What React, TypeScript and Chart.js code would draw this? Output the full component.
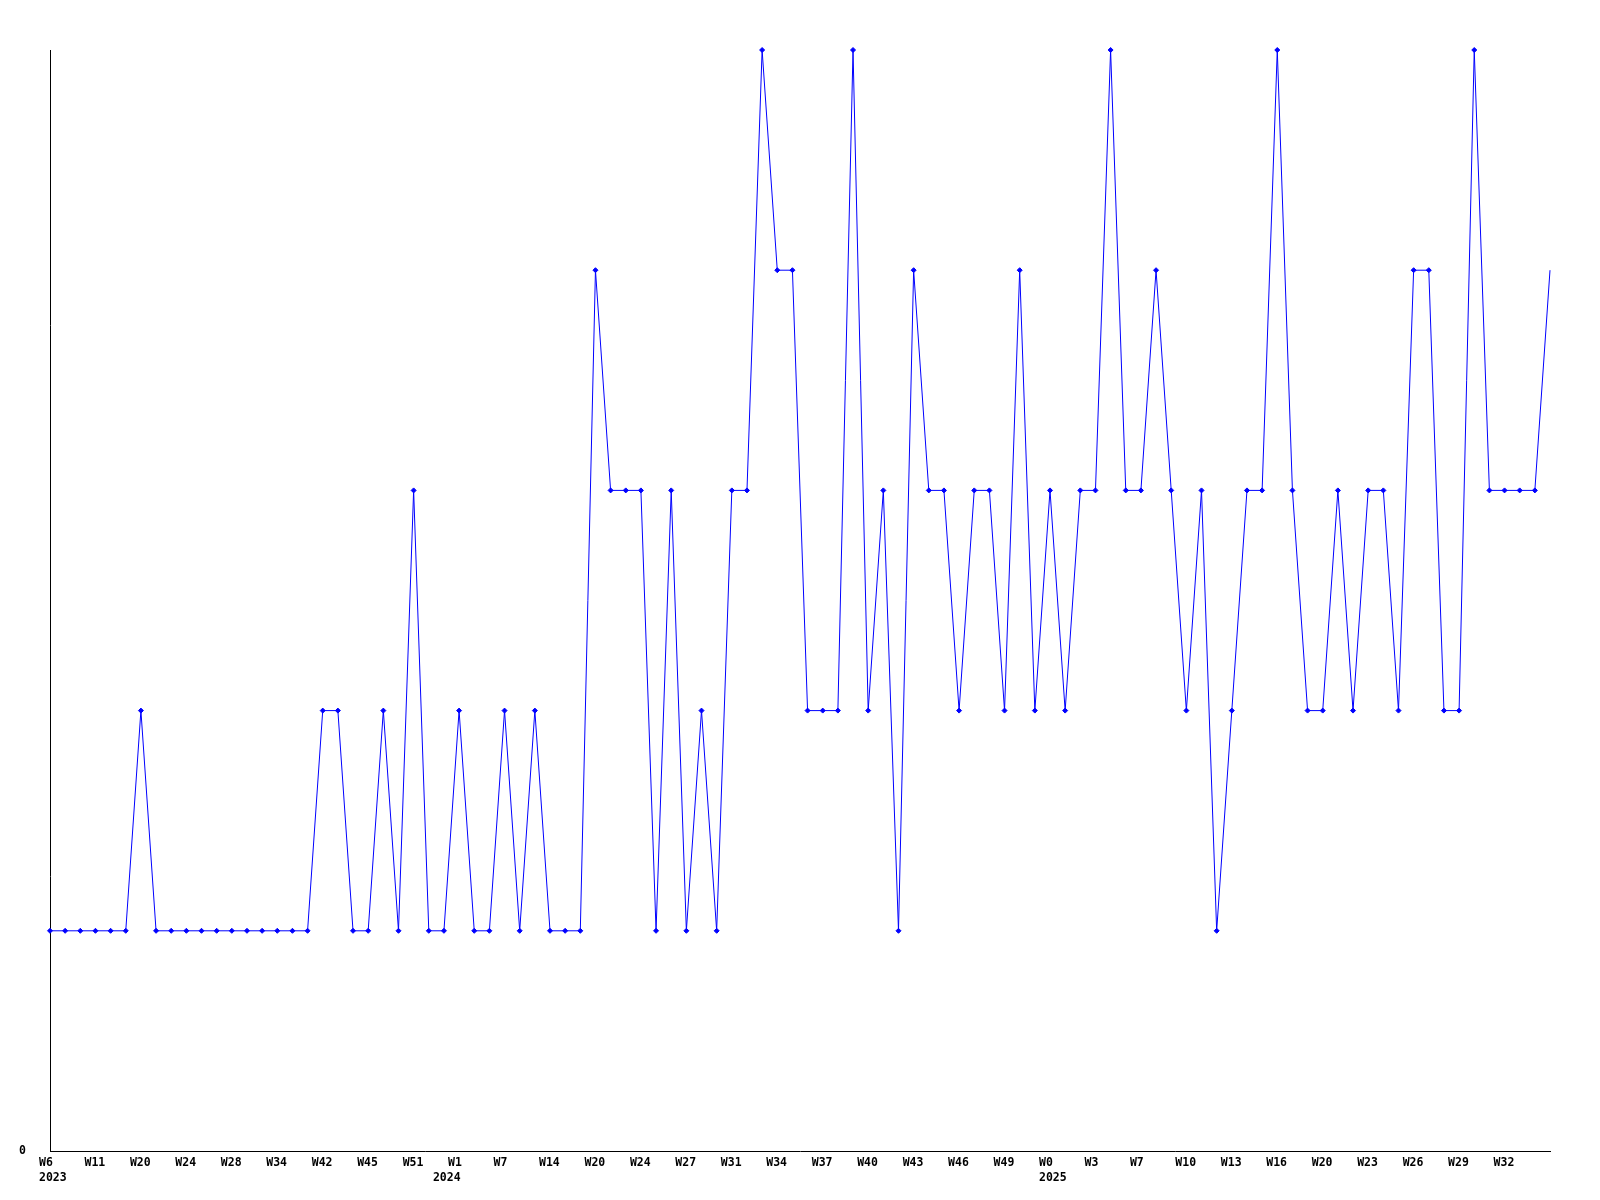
import React, { useEffect, useRef } from 'react';
import { Chart, registerables } from 'chart.js';

Chart.register(...registerables);

// Series values, one per sampled week (100 samples)
const values = [
  1, 1, 1, 1, 1, 1, 2, 1, 1, 1,
  1, 1, 1, 1, 1, 1, 1, 1, 2, 2,
  1, 1, 2, 1, 3, 1, 1, 2, 1, 1,
  2, 1, 2, 1, 1, 1, 4, 3, 3, 3,
  1, 3, 1, 2, 1, 3, 3, 5, 4, 4,
  2, 2, 2, 5, 2, 3, 1, 4, 3, 3,
  2, 3, 3, 2, 4, 2, 3, 2, 3, 3,
  5, 3, 3, 4, 3, 2, 3, 1, 2, 3,
  3, 5, 3, 2, 2, 3, 2, 3, 3, 2,
  4, 4, 2, 2, 5, 3, 3, 3, 3, 4,
];

// Week tick labels shown on every third sample
const weekTicks = [
  'W6', 'W11', 'W20', 'W24', 'W28', 'W34', 'W42', 'W45', 'W51', 'W1', 'W7',
  'W14', 'W20', 'W24', 'W27', 'W31', 'W34', 'W37', 'W40', 'W43', 'W46', 'W49',
  'W0', 'W3', 'W7', 'W10', 'W13', 'W16', 'W20', 'W23', 'W26', 'W29', 'W32',
];
const tickEvery = 3;

// Year labels and the sample where each year starts
const yearTicks = ['2023', '2024', '2025'];
const yearStartIndex = [0, 26, 66];

const yMin = 0;
const yMax = 5;

const weekLabels = values.map((_, i) => (i % tickEvery === 0 ? weekTicks[i / tickEvery] ?? '' : ''));
const yearLabels = values.map((_, i) => {
  const k = yearStartIndex.indexOf(i);
  return k >= 0 ? yearTicks[k] : '';
});

const FONT = { family: '"DejaVu Sans Mono", monospace', weight: 'bold' as const, size: 11.5, lineHeight: 1.2 };

export default function App() {
  const ref = useRef<HTMLCanvasElement | null>(null);

  useEffect(() => {
    if (!ref.current) return;
    const chart = new Chart(ref.current, {
      type: 'line',
      data: {
        labels: weekLabels,
        datasets: [
          {
            data: values,
            borderColor: '#0000ff',
            backgroundColor: '#0000ff',
            borderWidth: 1,
            tension: 0,
            fill: false,
            pointStyle: 'rectRot',
            pointRadius: (ctx: any) => (ctx.dataIndex === values.length - 1 ? 0 : 2.5),
            pointBorderWidth: 1,
            pointBorderColor: '#0000ff',
            pointBackgroundColor: '#0000ff',
            clip: false as any,
          },
        ],
      },
      options: {
        responsive: false,
        animation: false,
        events: [],
        layout: { padding: { left: 0, top: 50, right: 50, bottom: 0 } },
        plugins: {
          legend: { display: false },
          tooltip: { enabled: false },
          title: { display: false },
        },
        scales: {
          x: {
            type: 'category',
            position: 'bottom',
            weight: 0,
            offset: false,
            grid: { display: false, drawTicks: false },
            border: { display: true, color: '#000', width: 1 },
            ticks: {
              autoSkip: false,
              maxRotation: 0,
              minRotation: 0,
              align: 'start',
              labelOffset: -11,
              padding: 5,
              color: '#000',
              font: FONT,
            },
            afterFit: (s: any) => {
              s.height = 19;
            },
          },
          x2: {
            type: 'category',
            position: 'bottom',
            weight: 1,
            offset: false,
            labels: yearLabels,
            grid: { display: false, drawTicks: false },
            border: { display: false },
            ticks: {
              autoSkip: false,
              maxRotation: 0,
              minRotation: 0,
              align: 'start',
              labelOffset: -11,
              padding: 1,
              color: '#000',
              font: FONT,
            },
            afterFit: (s: any) => {
              s.height = 30;
            },
          },
          y: {
            type: 'linear',
            min: yMin,
            max: yMax,
            grid: { display: false, drawTicks: false },
            border: { display: true, color: '#000', width: 1 },
            ticks: { padding: 24, color: '#000', font: FONT },
            afterBuildTicks: (s: any) => {
              s.ticks = [{ value: yMin }];
            },
            afterFit: (s: any) => {
              s.width = 50;
            },
          },
        },
      },
    });
    return () => chart.destroy();
  }, []);

  return (
    <div style={{ position: 'absolute', left: 0, top: 0, width: 1600, height: 1200, background: '#fff' }}>
      <canvas ref={ref} width={1600} height={1200} style={{ display: 'block', width: 1600, height: 1200 }} />
    </div>
  );
}
